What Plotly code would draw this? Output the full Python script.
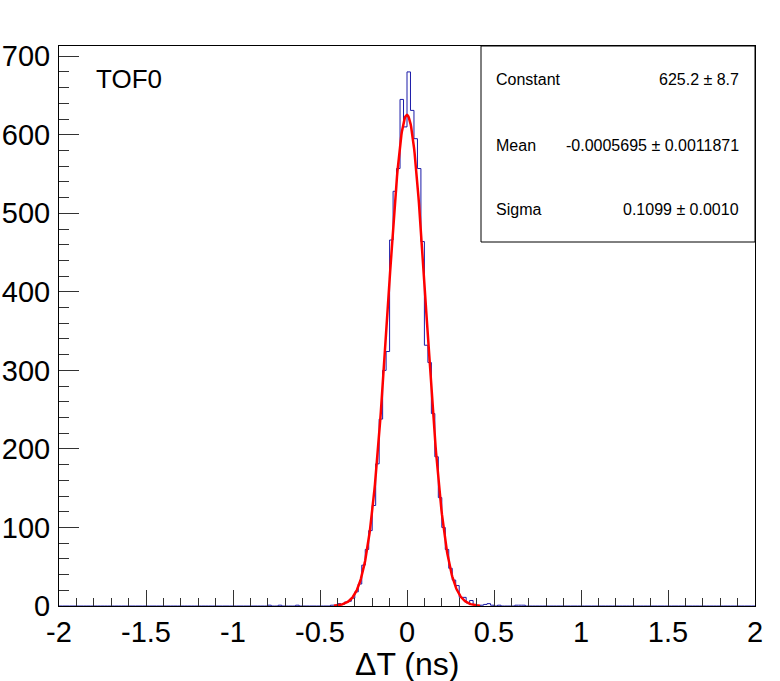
import numpy as np
import plotly.graph_objects as go

# ---- data ----
hist_start = -0.80       # low edge of first listed bin
bin_width = 0.02
counts = [
    1, 0, 0, 1, 0, 0, 0, 0, 1, 0,          # -0.80 .. -0.62
    0, 0, 0, 0, 0, 0, 0, 0, 1, 1,          # -0.60 .. -0.42
    3, 2, 5, 6, 10, 18, 28, 52, 72, 96,    # -0.40 .. -0.22
    128, 181, 238, 300, 324, 466, 528, 557, 645, 610,  # -0.20 .. -0.02
    680, 631, 595, 557, 464, 332, 310, 245, 190, 138,  # 0.00 .. 0.18
    100, 72, 48, 33, 26, 11, 11, 4, 7, 2,  # 0.20 .. 0.38
    0, 1, 2, 3, 1, 0, 1, 0, 0, 0,          # 0.40 .. 0.58
    0, 1, 1, 1, 0,                         # 0.60 .. 0.68
]
fit_constant = 625.2
fit_mean = -0.0005695
fit_sigma = 0.1099
fit_range = [-0.42, 0.42]

x_tick_vals = [-2, -1.5, -1, -0.5, 0, 0.5, 1, 1.5, 2]
x_tick_labels = ["-2", "-1.5", "-1", "-0.5", "0", "0.5", "1", "1.5", "2"]
y_tick_vals = [0, 100, 200, 300, 400, 500, 600, 700]
y_tick_labels = ["0", "100", "200", "300", "400", "500", "600", "700"]

stat_names = ["Constant", "Mean", "Sigma"]
stat_values = ["625.2 \u00b1 8.7", "-0.0005695 \u00b1 0.0011871", "0.1099 \u00b1 0.0010"]

# ---- build full histogram over [-2, 2] ----
x_min, x_max = -2.0, 2.0
nbins = int(round((x_max - x_min) / bin_width))
edges = np.linspace(x_min, x_max, nbins + 1)
full = np.zeros(nbins)
i0 = int(round((hist_start - x_min) / bin_width))
full[i0:i0 + len(counts)] = counts
step_y = list(full) + [full[-1]]

fx = np.linspace(fit_range[0], fit_range[1], 300)
fy = fit_constant * np.exp(-0.5 * ((fx - fit_mean) / fit_sigma) ** 2)

FONT = "Liberation Sans, Arial, sans-serif"

fig = go.Figure()
fig.add_trace(go.Scatter(x=edges, y=step_y, mode="lines", line_shape="hv",
                         line=dict(color="#1a1aa8", width=1), hoverinfo="skip"))
fig.add_trace(go.Scatter(x=fx, y=fy, mode="lines",
                         line=dict(color="#ff0000", width=2.5), hoverinfo="skip"))

W, H = 780, 681
PL, PR, PT, PB = 59, 755, 46, 606      # plot area in page pixels
L, T = PL, PT
pw, ph = PR - PL, PB - PT
R = W - L - pw
B = H - T - ph

def px_x(p):
    return (p - PL) / pw

def px_y(p):
    return (PB - p) / ph

fig.update_layout(
    width=W, height=H,
    margin=dict(l=L, r=R, t=T, b=B, autoexpand=False),
    paper_bgcolor="white", plot_bgcolor="white",
    showlegend=False,
    font=dict(family=FONT, color="black"),
    xaxis=dict(range=[x_min, x_max], tickmode="array", tickvals=x_tick_vals,
               ticktext=x_tick_labels, ticks="inside", ticklen=16, tickwidth=1,
               tickcolor="#333", showline=True, linecolor="black", linewidth=1,
               mirror=True, showgrid=False, zeroline=False,
               tickfont=dict(size=29, family=FONT, color="black"),
               minor=dict(ticks="inside", ticklen=8, dtick=0.1, tickcolor="#333",
                          showgrid=False)),
    yaxis=dict(range=[0, 713], tickmode="array", tickvals=y_tick_vals,
               ticktext=y_tick_labels, ticks="inside", ticklen=20, tickwidth=1,
               tickcolor="#333", showline=True, linecolor="black", linewidth=1,
               mirror=True, showgrid=False, zeroline=False,
               tickfont=dict(size=29, family=FONT, color="black"),
               ticklabelstandoff=2,
               minor=dict(ticks="inside", ticklen=10, dtick=20, tickcolor="#333",
                          showgrid=False)),
)

# stats box
fig.add_shape(type="rect", xref="paper", yref="paper",
              x0=px_x(481), x1=1, y0=px_y(242), y1=1,
              line=dict(color="black", width=1), fillcolor="white", layer="above")

ann = []
ann.append(dict(text="TOF0", x=px_x(94), y=px_y(79), xref="paper", yref="paper",
                xanchor="left", yanchor="middle", showarrow=False,
                font=dict(size=26, family=FONT, color="black")))
ann.append(dict(text="\u0394T (ns)", x=0.5, y=0, xref="paper", yref="paper",
                xanchor="center", yanchor="middle", yshift=-58, showarrow=False,
                font=dict(size=32, family=FONT, color="black")))
stat_y = [79, 145, 210]
for name, val, yy in zip(stat_names, stat_values, stat_y):
    ann.append(dict(text=name, x=px_x(494), y=px_y(yy), xref="paper", yref="paper",
                    xanchor="left", yanchor="middle", showarrow=False,
                    font=dict(size=16, family=FONT, color="black")))
    ann.append(dict(text=val, x=px_x(741), y=px_y(yy), xref="paper", yref="paper",
                    xanchor="right", yanchor="middle", showarrow=False,
                    font=dict(size=16, family=FONT, color="black")))
fig.update_layout(annotations=ann)

fig.write_html("out.html", config={"displayModeBar": False},
               post_script="document.body.style.margin='0';document.body.style.overflow='hidden';")
